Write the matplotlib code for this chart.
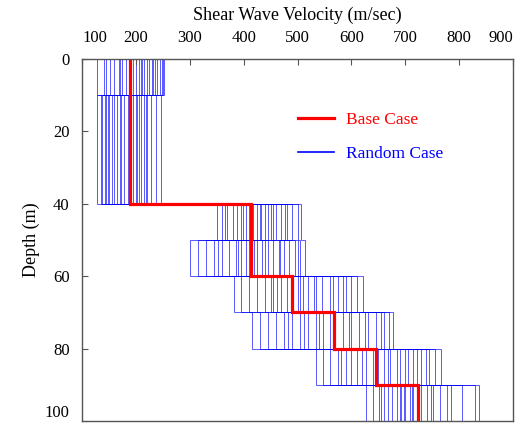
import matplotlib
matplotlib.use("Agg")
import matplotlib.pyplot as plt
from matplotlib.lines import Line2D

plt.rcParams["font.family"] = ["Liberation Serif", "DejaVu Serif"]

# layer boundaries (m)
depth_edges = [0, 10, 40, 50, 60, 70, 80, 90, 100]

# base case shear wave velocity per layer (m/sec)
base_vs = [190, 190, 413, 413, 489, 567, 646, 723]

# random realisations, one row per profile
random_vs = [
    [128, 150, 380, 420, 470, 520, 600, 700],
    [253, 247, 507, 513, 621, 677, 766, 837],
    [175, 160, 430, 345, 455, 490, 640, 668],
    [140, 128, 351, 300, 383, 416, 535, 628],
    [205, 200, 480, 465, 560, 615, 700, 765],
    [230, 218, 395, 385, 510, 548, 620, 692],
    [160, 142, 450, 495, 600, 660, 745, 829],
    [215, 185, 405, 330, 425, 460, 575, 652],
    [195, 165, 460, 435, 530, 585, 690, 722],
    [245, 221, 500, 505, 590, 645, 755, 805],
    [168, 135, 370, 372, 440, 505, 590, 675],
    [210, 195, 440, 455, 545, 570, 650, 715],
    [182, 170, 418, 405, 500, 535, 672, 708],
    [236, 228, 470, 485, 575, 630, 730, 785],
    [152, 155, 388, 315, 410, 445, 560, 640],
    [220, 205, 425, 425, 520, 600, 660, 740],
    [200, 178, 410, 395, 480, 475, 610, 685],
    [250, 238, 490, 475, 610, 670, 715, 752],
    [225, 210, 360, 360, 395, 430, 548, 660],
    [240, 215, 432, 445, 490, 560, 685, 730],
    [145, 138, 398, 352, 462, 512, 628, 655],
    [188, 148, 445, 410, 535, 595, 705, 712],
    [212, 172, 476, 468, 505, 540, 580, 698],
    [232, 190, 365, 390, 565, 625, 738, 778],
    [170, 145, 412, 440, 450, 482, 668, 690],
    [248, 202, 455, 500, 585, 655, 722, 748],
]

fig = plt.figure(figsize=(5.26, 4.29), dpi=100)
ax = fig.add_axes([82 / 526, 1 - 421 / 429, 431 / 526, 362 / 429])

for vs in random_vs:
    ax.stairs(vs, depth_edges, orientation="horizontal", baseline=None,
              color="blue", linewidth=0.7, alpha=0.65)

ax.stairs(base_vs, depth_edges, orientation="horizontal", baseline=None,
          color="red", linewidth=2.3)

ax.set_xlim(100, 900)
ax.set_ylim(100, 0)
ax.xaxis.tick_top()
ax.xaxis.set_label_position("top")
ax.set_xticks(range(100, 1000, 100))
ax.set_yticks(range(0, 120, 20))
ax.tick_params(direction="in", length=4, width=0.8, color="#555555",
               labelsize=12, pad=9)
ax.tick_params(axis="x", pad=9.5)
xl = ax.get_xticklabels()
xl[0].set_ha("left")
xl[-1].set_ha("right")
yl = ax.get_yticklabels()
yl[-1].set_va("bottom")

ax.set_xlabel("Shear Wave Velocity (m/sec)", fontsize=13, labelpad=7)
ax.set_ylabel("Depth (m)", fontsize=13, labelpad=3)

for s in ax.spines.values():
    s.set_color("#555555")
    s.set_linewidth(1.0)

handles = [Line2D([], [], color="red", linewidth=2.3),
           Line2D([], [], color="blue", linewidth=1.2)]
ax.legend(handles, ["Base Case", "Random Case"], loc="upper left",
          bbox_to_anchor=(0.5, 0.853), frameon=False, fontsize=12.5,
          handlelength=2.1, handletextpad=0.7, labelspacing=1.0,
          borderpad=0, borderaxespad=0, labelcolor="linecolor")

fig.savefig("out.png", dpi=100)
